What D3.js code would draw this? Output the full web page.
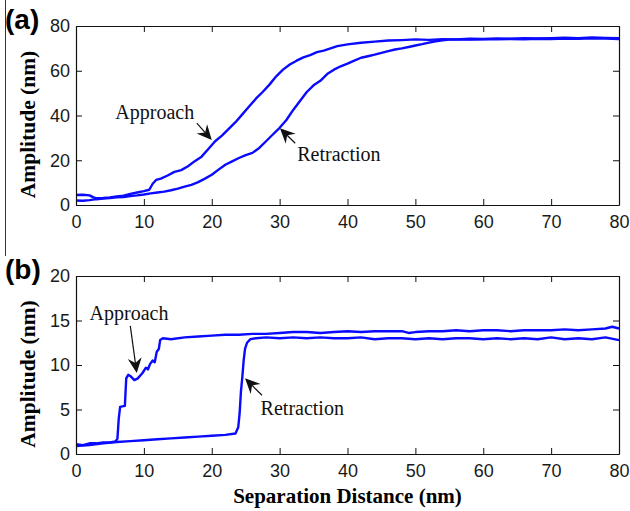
<!DOCTYPE html>
<html>
<head>
<meta charset="utf-8">
<script src="https://cdn.jsdelivr.net/npm/d3@7"></script>
<style>
    body { margin: 0; background: #fff; }
    svg { display: block; }
    .tick text { font-family: "Liberation Sans", Arial, sans-serif; }
</style>
</head>
<body>
<svg width="630" height="511"></svg>
<script>
"use strict";

// panel (a): amplitude vs separation, both branches [distance, amplitude]
var approachA = [
    [0, 4.5], [1, 4.6], [2, 4.3], [2.5, 3.5], [3, 3.0], [4, 3.1], [5, 3.4],
    [6, 3.8], [7, 4.2], [8, 5.0], [9, 5.6], [10, 6.2], [10.8, 6.8],
    [11.3, 9.5], [11.8, 11.2], [12.5, 11.8], [13.5, 13.2], [14.5, 14.8],
    [15.5, 15.6], [16.5, 17.3], [17.5, 19.6], [18.5, 21.6], [19.5, 25.0],
    [20.5, 28.5], [21.5, 31.0], [22.5, 34.0], [23.5, 37.0], [24.5, 40.5],
    [25.5, 44.0], [26.5, 47.5], [27.5, 50.5], [28.5, 53.8], [29.5, 57.5],
    [30.5, 60.5], [31.5, 62.8], [32.5, 64.5], [33.5, 66.0], [34.5, 67.0],
    [35.5, 68.3], [36.5, 69.0], [37.5, 70.0], [38.5, 71.0], [40, 71.8],
    [42, 72.5], [44, 73.0], [46, 73.5], [48, 73.7], [50, 74.0], [52, 73.8],
    [54, 74.1], [56, 74.0], [58, 74.3], [60, 74.2], [62, 74.4], [64, 74.3],
    [66, 74.5], [68, 74.4], [70, 74.6], [72, 74.8], [74, 74.6], [76, 74.9],
    [78, 74.7], [80, 74.5]
];
var retractionA = [
    [0, 2.0], [1, 1.9], [2, 2.2], [3, 2.6], [4, 2.9], [5, 3.1], [6, 3.4],
    [7, 3.6], [8, 4.0], [9, 4.3], [10, 4.7], [11, 5.2], [12, 5.6], [13, 6.0],
    [14, 6.6], [15, 7.3], [16, 8.2], [17, 9.0], [18, 10.2], [19, 11.8],
    [20, 13.5], [21, 15.8], [22, 18.0], [23, 19.5], [24, 21.0], [25, 22.3],
    [26, 23.3], [27, 25.5], [28, 28.5], [29, 31.5], [30, 34.5], [31, 38.0],
    [32, 42.5], [33, 46.5], [34, 50.5], [35, 53.5], [36, 55.5], [37, 58.5],
    [38, 60.5], [39, 62.0], [40, 63.2], [41, 64.5], [42, 65.8], [43, 66.5],
    [44, 67.2], [45, 68.0], [46, 68.8], [47, 69.5], [48, 70.0], [49, 70.6],
    [50, 71.3], [51, 71.9], [52, 72.6], [53, 73.2], [54, 73.6], [55, 73.9],
    [56, 74.0], [58, 73.9], [60, 74.1], [62, 74.0], [64, 74.2], [66, 74.1],
    [68, 74.3], [70, 74.2], [72, 74.4], [74, 74.3], [76, 74.5], [78, 74.4],
    [80, 74.2]
];

// panel (b)
var approachB = [
    [0, 1.1], [1, 1.0], [2, 1.2], [3, 1.2], [4, 1.3], [5, 1.3], [5.8, 1.4],
    [6.1, 1.7], [6.3, 4.0], [6.5, 5.3], [7.2, 5.4], [7.4, 8.5], [7.7, 8.9],
    [8.1, 8.7], [8.6, 8.3], [9.1, 8.5], [9.8, 9.1], [10.3, 9.7], [10.6, 9.5],
    [10.9, 10.1], [11.3, 10.5], [11.6, 10.3], [11.9, 11.5], [12.2, 11.8],
    [12.4, 12.8], [12.8, 13.0], [14, 12.9], [16, 13.1], [18, 13.2],
    [20, 13.3], [22, 13.4], [24, 13.4], [26, 13.5], [28, 13.5], [30, 13.6],
    [32, 13.7], [34, 13.7], [36, 13.6], [38, 13.7], [40, 13.8], [42, 13.7],
    [44, 13.8], [46, 13.8], [48, 13.8], [49, 13.6], [50, 13.7], [52, 13.8],
    [54, 13.8], [56, 13.9], [58, 13.8], [60, 13.9], [62, 13.9], [64, 13.8],
    [66, 13.9], [68, 13.9], [70, 13.9], [72, 14.0], [74, 13.9], [76, 14.0],
    [78, 14.1], [79, 14.3], [80, 14.1]
];
var retractionB = [
    [0, 0.9], [2, 1.0], [4, 1.2], [6, 1.35], [8, 1.45], [10, 1.55],
    [12, 1.65], [14, 1.75], [16, 1.85], [18, 1.95], [20, 2.05], [22, 2.15],
    [23.5, 2.3], [23.9, 3.0], [24.1, 4.5], [24.3, 7.0], [24.5, 8.6],
    [24.7, 10.5], [24.9, 11.8], [25.2, 12.5], [25.7, 12.9], [26.5, 13.0],
    [28, 13.1], [30, 13.0], [32, 13.1], [34, 13.0], [36, 13.1], [38, 13.0],
    [40, 13.0], [42, 13.1], [44, 12.9], [46, 13.0], [48, 13.0], [50, 12.9],
    [52, 13.0], [54, 12.9], [56, 13.0], [58, 13.0], [60, 12.9], [62, 13.0],
    [64, 12.9], [66, 13.0], [68, 12.9], [70, 13.1], [72, 12.9], [74, 13.0],
    [76, 12.9], [78, 13.1], [80, 12.8]
];

var xTicks = [0, 10, 20, 30, 40, 50, 60, 70, 80];
var yTicksA = [0, 20, 40, 60, 80];
var yTicksB = [0, 5, 10, 15, 20];

// annotations in data units: label anchor, arrow tail, arrow tip
var notesA = [
    {text: "Approach", at: [5.8, 38.5], from: [17.8, 36.6], to: [20.0, 29.0]},
    {text: "Retraction", at: [32.6, 19.8], from: [32.3, 27.6], to: [30.05, 34.3]}
];
var notesB = [
    {text: "Approach", at: [2.0, 15.05], from: [8.0, 14.4], to: [8.95, 9.1]},
    {text: "Retraction", at: [27.2, 4.4], from: [27.4, 6.6], to: [24.9, 8.5]}
];

var svg = d3.select("svg");
var left = 76, right = 619;
var blue = "#0a0aff";

// stray rule left of the figure
svg.append("line")
    .attr("x1", 5.5).attr("x2", 5.5)
    .attr("y1", 0).attr("y2", 256)
    .attr("stroke", "#333").attr("stroke-width", 1);

function panel(spec) {
    var x = d3.scaleLinear().domain([0, 80]).range([left, right]);
    var y = d3.scaleLinear().domain([0, spec.yMax])
        .range([spec.bottom, spec.top]);
    var g = svg.append("g");

    var line = d3.line()
        .x(function (d) { return x(d[0]); })
        .y(function (d) { return y(d[1]); });

    [spec.approach, spec.retraction].forEach(function (s) {
        g.append("path")
            .datum(s)
            .attr("d", line)
            .attr("fill", "none")
            .attr("stroke", blue)
            .attr("stroke-width", 2.4)
            .attr("stroke-linejoin", "round");
    });

    // matlab style box with inward ticks
    var axes = [
        {ax: d3.axisBottom(x).tickValues(xTicks), t: [0, spec.bottom], lab: true},
        {ax: d3.axisTop(x).tickValues(xTicks), t: [0, spec.top], lab: false},
        {ax: d3.axisLeft(y).tickValues(spec.yTicks), t: [left, 0], lab: true},
        {ax: d3.axisRight(y).tickValues(spec.yTicks), t: [right, 0], lab: false}
    ];
    axes.forEach(function (a) {
        a.ax.tickSizeInner(-6).tickSizeOuter(0).tickPadding(10);
        var ag = g.append("g")
            .attr("transform", "translate(" + a.t[0] + "," + a.t[1] + ")")
            .call(a.ax);
        ag.select(".domain").attr("stroke", "#111").attr("stroke-width", 1.2);
        ag.selectAll(".tick line").attr("stroke", "#111");
        ag.selectAll(".tick text")
            .attr("font-size", 18)
            .attr("fill", "#1a1a1a");
        if (!a.lab) {
            ag.selectAll(".tick text").remove();
        }
    });
    g.selectAll(".tick text")
        .filter(function () {
            return this.parentNode.parentNode.getAttribute("transform")
                .indexOf("translate(76") === 0;
        })
        .attr("x", -6);

    g.append("text")
        .attr("transform", "translate(35," +
                ((spec.top + spec.bottom) / 2 + 9) + ") rotate(-90)")
        .attr("text-anchor", "middle")
        .attr("font-family", "'Liberation Serif', 'Times New Roman', serif")
        .attr("font-weight", "bold")
        .attr("font-size", 21.5)
        .text("Amplitude (nm)");

    g.append("text")
        .attr("x", 5)
        .attr("y", spec.top + 3)
        .attr("font-family", "'Liberation Sans', Arial, sans-serif")
        .attr("font-weight", "bold")
        .attr("font-size", 28)
        .text(spec.tag);

    spec.notes.forEach(function (n) {
        g.append("text")
            .attr("x", x(n.at[0]))
            .attr("y", y(n.at[1]))
            .attr("font-family", "'Liberation Serif', 'Times New Roman', serif")
            .attr("font-size", 20)
            .attr("fill", "#111")
            .text(n.text);
        var x0 = x(n.from[0]), y0 = y(n.from[1]);
        var x1 = x(n.to[0]), y1 = y(n.to[1]);
        var ang = Math.atan2(y1 - y0, x1 - x0);
        var len = 15, half = 7, notch = 10;
        var cos = Math.cos(ang), sin = Math.sin(ang);
        var bx = x1 - len * cos, by = y1 - len * sin;
        var nx = x1 - notch * cos, ny = y1 - notch * sin;
        g.append("line")
            .attr("x1", x0).attr("y1", y0)
            .attr("x2", nx).attr("y2", ny)
            .attr("stroke", "#111").attr("stroke-width", 1.2);
        g.append("path")
            .attr("d", "M" + x1 + "," + y1 +
                    "L" + (bx - half * sin) + "," + (by + half * cos) +
                    "L" + nx + "," + ny +
                    "L" + (bx + half * sin) + "," + (by - half * cos) + "Z")
            .attr("fill", "#111");
    });
}

panel({
    tag: "(a)", top: 26, bottom: 205, yMax: 80, yTicks: yTicksA,
    approach: approachA, retraction: retractionA, notes: notesA
});
panel({
    tag: "(b)", top: 276, bottom: 454, yMax: 20, yTicks: yTicksB,
    approach: approachB, retraction: retractionB, notes: notesB
});

svg.append("text")
    .attr("x", (left + right) / 2)
    .attr("y", 503)
    .attr("text-anchor", "middle")
    .attr("font-family", "'Liberation Serif', 'Times New Roman', serif")
    .attr("font-weight", "bold")
    .attr("font-size", 21)
    .text("Separation Distance (nm)");
</script>
</body>
</html>
